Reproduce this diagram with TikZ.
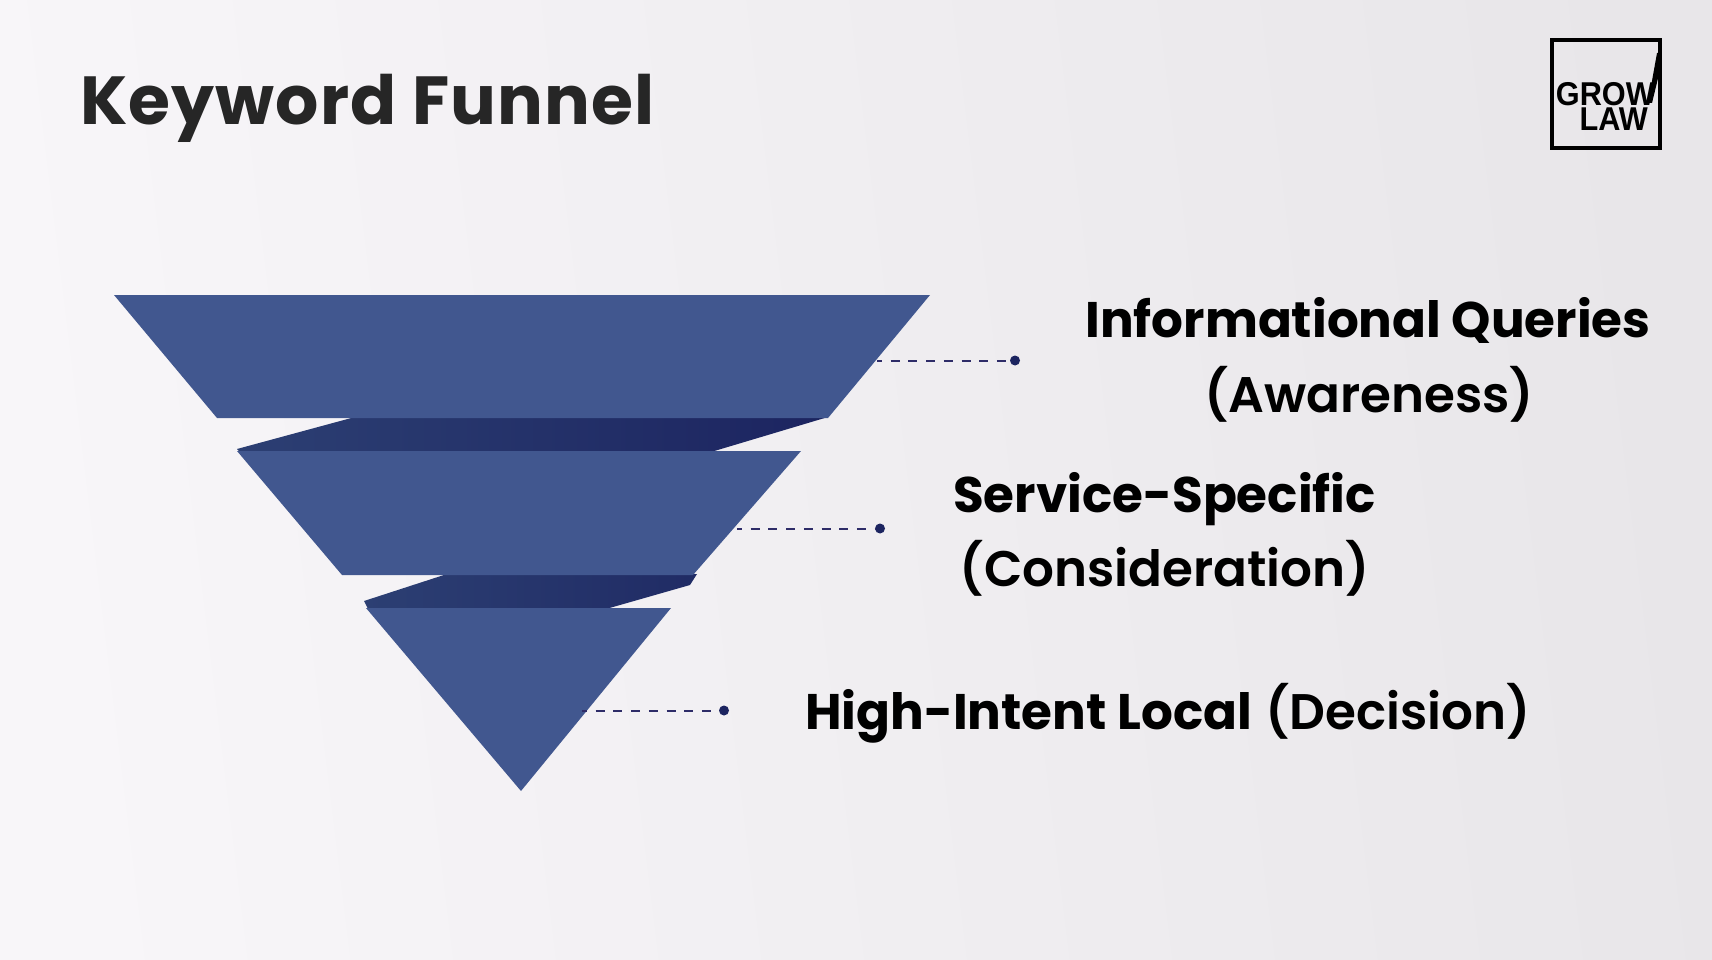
\documentclass[tikz,border=0pt]{standalone}
\usepackage{fontspec}
\setmainfont{Poppins}
\newfontfamily\mediumfont{Poppins SemiBold}
\newfontfamily\titlefont[LetterSpace=1.7]{Poppins}
\newfontfamily\logofont[FakeStretch=0.93]{Liberation Sans}
\definecolor{funnelblue}{HTML}{41578F}
\definecolor{bandleft}{HTML}{2C3F73}
\definecolor{bandmid}{HTML}{26366C}
\definecolor{bandright}{HTML}{1C2460}
\definecolor{dashblue}{HTML}{2E2C68}
\definecolor{backleft}{HTML}{F8F6F9}
\definecolor{backright}{HTML}{E8E6E9}
\tikzset{
    funnel/.style={fill=funnelblue},
    band/.style={left color=bandleft, middle color=bandmid, right color=bandright},
    lead/.style={dash pattern=on 9pt off 8.7pt, dash phase=4pt, line width=2pt, color=dashblue},
    leaddot/.style={circle, fill=bandright, inner sep=0pt, minimum size=10pt},
    label/.style={anchor=base, font=\fontsize{50}{50}\selectfont, text=black},
    logotext/.style={anchor=base east, inner sep=0pt, align=right, font=\fontsize{33}{25}\logofont\bfseries}
}
\begin{document}
\begin{tikzpicture}[x=1pt, y=-1pt]
    \useasboundingbox (0,0) rectangle (1712,960);
    \shade[left color=backleft, right color=backright, shading angle=97] (0,0) rectangle (1712,960);
    % title and logo
    \node[anchor=base west, inner sep=0pt, text=black!85, font=\fontsize{68}{68}\titlefont\bfseries] (title) at (80,125) {Keyword Funnel};
    \node[draw=black, line width=4pt, minimum width=108pt, minimum height=108pt, inner sep=0pt] (logo) at (1606,94) {};
    \node[logotext] (grow) at (1655,130.5) {GROW\\LAW\hspace*{7pt}};
    \fill (1648,103) -- (1657,53) -- (1660,53) -- (1660,70) -- (1652,103) -- cycle;
    % dark bands
    \path[band] (355,417) -- (828,417) -- (711,452) -- (240,452) -- (237,449) -- cycle;
    \path[band, right color=bandright!60!bandmid] (447,574) -- (697,574) -- (690,585) -- (606,609) -- (368,609) -- (364,601) -- cycle;
    % funnel
    \coordinate (A1) at (114,295);
    \coordinate (A2) at (930,295);
    \coordinate (A3) at (828,418);
    \coordinate (A4) at (217,418);
    \coordinate (B1) at (237,451);
    \coordinate (B2) at (801,451);
    \coordinate (B3) at (693,575);
    \coordinate (B4) at (342,575);
    \coordinate (D1) at (366,608);
    \coordinate (D2) at (671,608);
    \coordinate (D3) at (521,791);
    \path[funnel] (A1) -- (A2) -- (A3) -- (A4) -- cycle;
    \path[funnel] (B1) -- (B2) -- (B3) -- (B4) -- cycle;
    \path[funnel] (D1) -- (D2) -- (D3) -- cycle;
    % leaders
    \foreach \name/\xa/\xb/\y in {one/877/1015/360.5, two/737/880/528.5, three/582/724/710.5} {
        \coordinate (\name a) at (\xa,\y);
        \node[leaddot] (\name b) at (\xb,\y) {};
        \draw[lead] (\name a) -- (\name b);
    }
    % labels
    \node[label] (inf) at (1368,337) {\textbf{Informational Queries}};
    \node[label] (awa) at (1369,412) {\mediumfont(Awareness)};
    \node[label] (ser) at (1164.5,512) {\textbf{Service-Specific}};
    \node[label] (con) at (1165,586) {\mediumfont(Consideration)};
    \node[label, anchor=base west, inner sep=0pt] (hig) at (805,729) {\textbf{High-Intent Local} {\mediumfont(Decision)}};
\end{tikzpicture}
\end{document}
